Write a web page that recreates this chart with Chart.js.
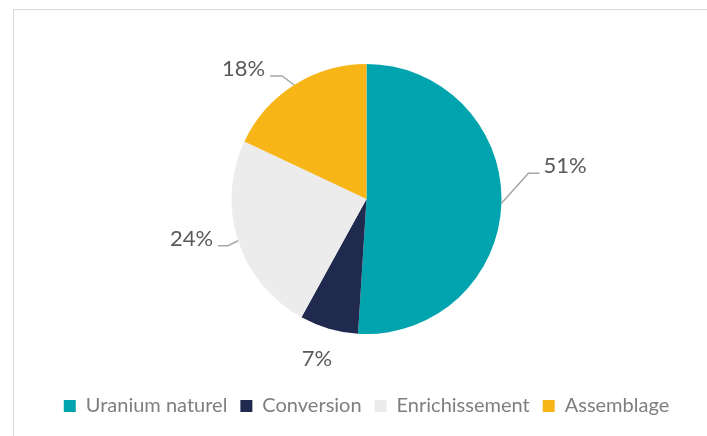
<!DOCTYPE html>
<html>
<head>
<meta charset="utf-8">
<script src="https://cdn.jsdelivr.net/npm/chart.js@4.4.0/dist/chart.umd.min.js"></script>
<style>
  html, body { margin: 0; padding: 0; background: #fff; overflow: hidden; }
  #frame { position: absolute; left: 13px; top: 9px; width: 720px; height: 460px; border: 1px solid #d9d9d9; }
  #wrap { position: absolute; left: 0; top: 0; width: 707px; height: 436px; }
</style>
</head>
<body>
<div id="frame"></div>
<div id="wrap"><canvas id="pieChart"></canvas></div>
<script>
const categories = ['Uranium naturel', 'Conversion', 'Enrichissement', 'Assemblage'];
const shares = [51, 7, 24, 18];
const sliceColors = ['#00a4ae', '#1f2a4e', '#ececec', '#f7b518'];

// where each percentage sits relative to the slice edge (leader elbow + horizontal run)
const labelLayout = [
    { elbow: [27, -30], run: 11 },
    { offset: [-12, 30] },
    { elbow: [-10, 5], run: -10 },
    { elbow: [-12, -9], run: -12 }
];

const leaderLabels = {
    id: 'leaderLabels',
    afterDatasetsDraw(chart) {
        const ctx = chart.ctx;
        const meta = chart.getDatasetMeta(0);
        ctx.save();
        ctx.font = '22px Lato';
        ctx.fillStyle = '#595959';
        ctx.strokeStyle = '#a6a6a6';
        ctx.lineWidth = 1.5;
        meta.data.forEach((arc, i) => {
            const mid = (arc.startAngle + arc.endAngle) / 2;
            const ax = arc.x + Math.cos(mid) * arc.outerRadius;
            const ay = arc.y + Math.sin(mid) * arc.outerRadius;
            const text = shares[i] + '%';
            const lay = labelLayout[i];
            if (lay.elbow) {
                const ex = ax + lay.elbow[0], ey = ay + lay.elbow[1];
                const tx = ex + lay.run;
                ctx.beginPath();
                ctx.moveTo(ax, ay);
                ctx.lineTo(ex, ey);
                ctx.lineTo(tx, ey);
                ctx.stroke();
                ctx.textBaseline = 'alphabetic';
                ctx.textAlign = lay.run > 0 ? 'left' : 'right';
                ctx.fillText(text, tx + (lay.run > 0 ? 4 : -5), ey);
            } else {
                ctx.textBaseline = 'middle';
                ctx.textAlign = 'center';
                ctx.fillText(text, ax + lay.offset[0], ay + lay.offset[1]);
            }
        });
        ctx.restore();
    }
};

new Chart(document.getElementById('pieChart'), {
    type: 'pie',
    data: {
        labels: categories,
        datasets: [{
            data: shares,
            backgroundColor: sliceColors,
            borderWidth: 0,
            radius: 135
        }]
    },
    options: {
        responsive: true,
        maintainAspectRatio: false,
        animation: false,
        layout: { padding: { left: 26, top: 15, bottom: 10 } },
        plugins: {
            legend: {
                position: 'bottom',
                labels: {
                    boxWidth: 12,
                    boxHeight: 12,
                    padding: 13,
                    color: '#7f7f7f',
                    font: { family: 'Lato', size: 20 }
                }
            },
            tooltip: { enabled: false }
        }
    },
    plugins: [leaderLabels]
});
</script>
</body>
</html>
